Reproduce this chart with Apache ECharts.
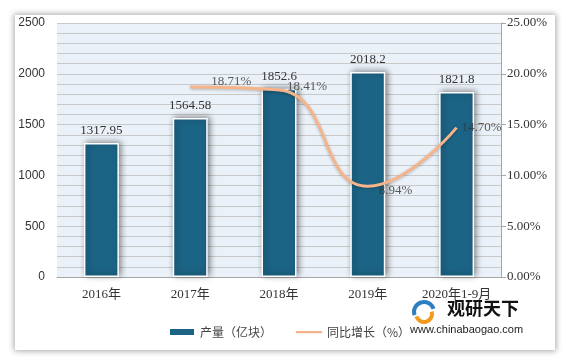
<!DOCTYPE html>
<html><head><meta charset="utf-8">
<script src="https://cdn.jsdelivr.net/npm/echarts@6/dist/echarts.min.js"></script>
<style>
html,body{margin:0;padding:0;background:#fff;}
#panel{position:absolute;left:15px;top:15px;width:540px;height:335px;background:#fff;box-shadow:0 0 6px 1px rgba(0,0,0,0.35);}
#main{position:absolute;left:0;top:0;width:569px;height:359px;}
</style></head>
<body>
<div id="panel"></div>
<div id="main"></div>
<script>
const categories = ['2016年','2017年','2018年','2019年','2020年1-9月'];
const output = [1317.95, 1564.58, 1852.6, 2018.2, 1821.8];
const growth = [null, 18.71, 18.41, 8.94, 14.70];
const seriesNames = ['产量（亿块）','同比增长（%）'];

// label nudges (style only)
const growthLabelOffsets = [[0,0],[16,-5],[3,-3],[6,4],[0,0]];

const serif = 'Liberation Serif, Noto Sans CJK SC, serif';
const chart = echarts.init(document.getElementById('main'), null, {renderer:'canvas'});
chart.setOption({
  backgroundColor: 'transparent',
  animation: false,
  grid: {left:57, right:68, top:23, bottom:82, show:true, backgroundColor:'#EAF1F8', borderWidth:0},
  xAxis: {
    type:'category', data: categories,
    axisLine:{show:true, lineStyle:{color:'#A6A6A6', width:1}},
    axisTick:{show:false},
    axisLabel:{color:'#333', fontFamily:serif, fontSize:13, margin:11, interval:0}
  },
  yAxis: [
    {type:'value', min:0, max:2500, interval:500,
     axisLine:{show:false}, axisTick:{show:false},
     axisLabel:{color:'#333', fontFamily:'Liberation Sans, Arial, sans-serif', fontSize:12, margin:12, formatter: v => String(v)},
     splitLine:{show:true, lineStyle:{color:'#C9C9C9', width:1}},
     minorTick:{show:false, splitNumber:5},
     minorSplitLine:{show:true, lineStyle:{color:'#C9C9C9', width:1}}
    },
    {type:'value', min:0, max:25, interval:5, position:'right',
     axisLine:{show:true, lineStyle:{color:'#A6A6A6'}},
     axisTick:{show:true, length:5, inside:false, lineStyle:{color:'#A6A6A6'}},
     axisLabel:{color:'#333', fontFamily:serif, fontSize:13, margin:6, formatter: v => v.toFixed(2)+'%'},
     splitLine:{show:false}
    }
  ],
  legend: {
    left:163, top:321, itemGap:24, itemWidth:26, itemHeight:8,
    textStyle:{color:'#444', fontFamily:'Noto Sans CJK SC', fontSize:12},
    data:[{name:seriesNames[0], icon:'rect'},
          {name:seriesNames[1], icon:'path://M0,0h0.01v0.01h-0.01z M0,3h26v2.2h-26z M25.99,7.99h0.01v0.01h-0.01z'}]
  },
  series: [
    {name:seriesNames[0], type:'bar', data: output, barWidth:35, yAxisIndex:0,
     itemStyle:{color:'#1C6486', borderColor:'#fff', borderWidth:1.5,
       shadowColor:'rgba(0,0,0,0.45)', shadowBlur:6, shadowOffsetX:2, shadowOffsetY:-1},
     label:{show:true, position:'top', distance:6, color:'#333', fontFamily:serif, fontSize:13}
    },
    {name:seriesNames[1], type:'line', data: growth, yAxisIndex:1, smooth:0.5,
     symbol:'none',
     lineStyle:{color:'#F6B48A', width:3, shadowColor:'rgba(0,0,0,0.25)', shadowBlur:3, shadowOffsetY:1},
     itemStyle:{color:'#F6B48A'},
     z:5
    },
    {name:'labels', type:'scatter', yAxisIndex:1, symbolSize:2,
     data: growth.map((v, i) => ({value: v, label: {offset: growthLabelOffsets[i]}})),
     itemStyle:{color:'rgba(0,0,0,0)'}, silent:true, z:6,
     label:{show:true, position:'right', distance:4, color:'#333', fontFamily:serif, fontSize:13,
       formatter: p => p.value == null ? '' : Number(p.value).toFixed(2)+'%'}
    }
  ],
  graphic: [
    {type:'arc', shape:{cx:424, cy:312, r:10, startAngle:Math.PI*0.9, endAngle:Math.PI*1.9}, style:{stroke:'#2E7FC0', lineWidth:4, fill:null}},
    {type:'arc', shape:{cx:424, cy:314, r:8, startAngle:-Math.PI*0.1, endAngle:Math.PI*0.9}, style:{stroke:'#F39A1E', lineWidth:4, fill:null}},
    {type:'text', left:447, top:299, style:{text:'观研天下', fill:'#111', font:'bold 18px "Noto Sans CJK SC"'}},
    {type:'text', left:410, top:324, style:{text:'www.chinabaogao.com', fill:'#222', font:'11px "Liberation Sans", Arial, sans-serif'}}
  ]
});
</script>
</body></html>
